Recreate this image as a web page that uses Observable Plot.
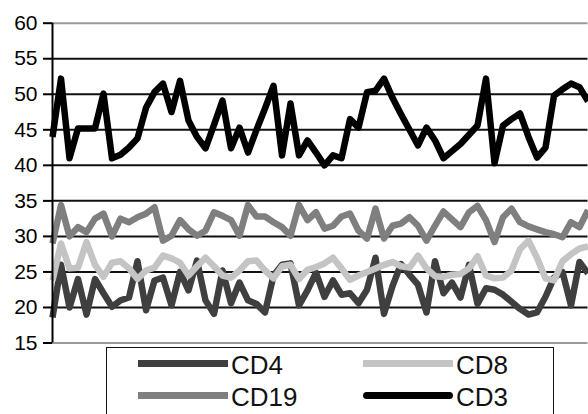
<!DOCTYPE html>
<html>
<head>
<meta charset="utf-8">
<script src="https://cdn.jsdelivr.net/npm/d3@7"></script>
<script src="https://cdn.jsdelivr.net/npm/@observablehq/plot@0.6"></script>
<style>
  html, body { margin: 0; padding: 0; background: #fff; overflow: hidden; }
  #wrap { position: relative; width: 588px; height: 414px; font-family: "Liberation Sans", Arial, sans-serif; }
  #legend {
    position: absolute; left: 106px; top: 347px; width: 448px; height: 100px;
    border: 1.5px solid #111; box-sizing: border-box; background: #fff;
  }
  .item { position: absolute; display: flex; align-items: center; height: 32px; }
  .swatch { width: 90px; height: 7px; }
  .label { font-size: 26px; line-height: 26px; color: #111; margin-left: 3px; position: relative; top: 2px; }
</style>
</head>
<body>
<div id="wrap"><div id="chart"></div><div id="legend"></div></div>
<script>
// Lymphocyte subset percentages per sample
const seriesNames = ["CD4", "CD8", "CD19", "CD3"];
const seriesColors = ["#3f3f3f", "#c4c4c4", "#7f7f7f", "#000000"];
const yTicks = [15, 20, 25, 30, 35, 40, 45, 50, 55, 60];

const CD4 = [18.6, 26, 20, 24, 19, 24, 22, 20.1, 21, 21.4, 26.5, 19.6, 23.8, 24.2, 20.3, 25,
  22.4, 26.6, 21, 19.1, 25.2, 20.6, 23.5, 21, 20.5, 19.3, 24.5, 26, 26.2, 20.3, 22.4, 24.9,
  21.5, 23.8, 21.8, 22, 20.6, 22.5, 27, 19.1, 23, 26.1, 24.6, 23.2, 19.3, 26.5, 22, 23.5,
  21.4, 26, 20.5, 22.7, 22.5, 21.8, 20.8, 19.8, 19, 19.3, 21.5, 24.2, 25, 20.3, 26.4, 24.8];

const CD8 = [23.8, 29, 25.5, 25.6, 29.2, 26, 24.3, 26.3, 26.5, 25.5, 24, 25.2, 25.6, 27.3, 26.9, 26.3,
  24.5, 25.8, 27, 25.8, 24.5, 24.2, 25.2, 26.5, 26.6, 25.2, 24.1, 25.8, 26, 24, 25.3, 25.7,
  26.2, 27, 25.5, 23.9, 24.5, 25, 25.5, 26, 26.4, 25.8, 25.6, 27.3, 25.5, 24.4, 24.3, 24.6,
  24.7, 25.5, 27.2, 24.5, 24.1, 24.2, 25.2, 28.2, 29.4, 27, 24.1, 23.8, 26.5, 27.5, 28.3, 28.6];

const CD19 = [29, 34.4, 30, 31.3, 30.6, 32.5, 33.2, 30, 32.5, 32, 32.7, 33.2, 34.1, 29.4, 30.1, 32.3,
  31, 30.1, 30.8, 33.4, 32.9, 32.3, 30.1, 34.4, 32.8, 32.8, 32, 31.3, 30.1, 34.4, 32.3, 33.4,
  31.1, 31.5, 32.8, 33.2, 30.8, 29.7, 33.9, 29.7, 31.5, 31.8, 32.7, 31.5, 29.4, 31.5, 33.5, 32.4,
  31.3, 33.4, 34.3, 32.3, 29.2, 32.7, 33.9, 32, 31.4, 31, 30.6, 30.3, 29.9, 32, 31.3, 33.7];

const CD3 = [44, 52.2, 41, 45.2, 45.2, 45.2, 50.1, 41, 41.5, 42.5, 43.8, 48.1, 50.3, 51.5, 47.5, 51.9,
  46.3, 44, 42.4, 45.7, 49.1, 42.4, 45.3, 41.8, 45, 48, 51.2, 41.4, 48.7, 41.4, 43.5, 41.8,
  40, 41.4, 41, 46.5, 45.3, 50.3, 50.5, 52.2, 49.5, 47.2, 45, 42.8, 45.3, 43.5, 41, 42,
  43, 44.3, 45.6, 52.2, 40.3, 45.6, 46.5, 47.3, 44, 41.1, 42.5, 49.8, 50.7, 51.5, 51, 49];

const valuesByName = {CD4, CD8, CD19, CD3};
const rows = seriesNames.flatMap(name =>
  valuesByName[name].map((value, i) => ({sample: i, value, series: name}))
);

const chart = Plot.plot({
  width: 588,
  height: 360,
  marginLeft: 52,
  marginRight: 0.5,
  marginTop: 22.7,
  marginBottom: 17.5,
  style: {fontFamily: "'Liberation Sans', Arial, sans-serif", fontSize: "21px", color: "#000", background: "#fff"},
  x: {domain: [0, CD3.length - 1], axis: null},
  y: {domain: [15, 60], axis: null, label: null},
  color: {domain: seriesNames, range: seriesColors},
  marks: [
    Plot.ruleY(yTicks.filter(t => t > 15 && t < 60), {stroke: "#111", strokeWidth: 2}),
    Plot.ruleY([15, 60], {stroke: "#9a9a9a", strokeWidth: 2}),
    Plot.line(rows, {
      x: "sample", y: "value", z: "series", stroke: "series",
      strokeWidth: 6.5, strokeLinejoin: "round", strokeLinecap: "butt"
    }),
    Plot.ruleX([0], {stroke: "#000", strokeWidth: 2}),
    Plot.axisY({ticks: yTicks, label: null, tickSize: 9, tickPadding: 6, strokeWidth: 2, fontSize: 21, fill: "#000"})
  ]
});
document.getElementById("chart").appendChild(chart);

// Legend: two columns, two rows
const legend = document.getElementById("legend");
const colLeft = [31, 256];
const rowTop = [-1, 31];
seriesNames.forEach((name, i) => {
  const item = document.createElement("div");
  item.className = "item";
  item.style.left = colLeft[i % 2] + "px";
  item.style.top = rowTop[Math.floor(i / 2)] + "px";
  const sw = document.createElement("span");
  sw.className = "swatch";
  sw.style.background = seriesColors[i];
  if (name === "CD3") sw.style.borderRadius = "4px";
  const lb = document.createElement("span");
  lb.className = "label";
  lb.textContent = name;
  item.appendChild(sw);
  item.appendChild(lb);
  legend.appendChild(item);
});
</script>
</body>
</html>
